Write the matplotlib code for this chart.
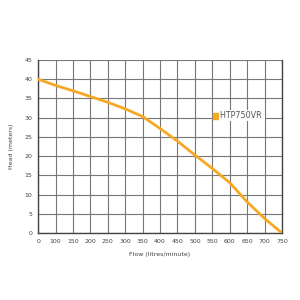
import matplotlib
matplotlib.use('Agg')
import matplotlib.pyplot as plt

# pump curve (x axis is categorical: 0 then 100, 150, ...)
flow_labels = ['0', '100', '150', '200', '250', '300', '350', '400',
               '450', '500', '550', '600', '650', '700', '750']
head = [40, 38.4, 37, 35.5, 34, 32.3, 30.3, 27.2, 23.9, 20.3, 16.8, 13.1, 8.1, 3.8, 0]
series_name = 'HTP750VR'
yticks = list(range(0, 46, 5))

pos = list(range(len(flow_labels)))

fig = plt.figure(figsize=(3, 3), dpi=100)
ax = fig.add_axes([0.127, 0.223, 0.813, 0.577])
ax.plot(pos, head, color='#F7A823', linewidth=2, label=series_name, zorder=3)
ax.set_xlim(0, len(flow_labels) - 1)
ax.set_ylim(0, 45)
ax.set_xticks(pos)
ax.set_xticklabels(flow_labels)
ax.set_yticks(yticks)
ax.grid(True, color='#777777', linewidth=0.8)
ax.tick_params(labelsize=4.5, length=0, pad=4, colors='#444444')
for s in ['left', 'bottom', 'right']:
    ax.spines[s].set_color('#444444')
    ax.spines[s].set_linewidth(1)
ax.spines['top'].set_visible(False)
ax.set_xlabel('Flow (litres/minute)', fontsize=4.5, color='#444444', labelpad=6)
ax.set_ylabel('Head (meters)', fontsize=4.5, color='#444444', labelpad=8)

# legend as a square marker + text, sitting on a white patch over the grid
ax.scatter([10.23], [30.5], marker='s', s=22, color='#F7A823', zorder=4)
ax.text(10.45, 30.5, series_name + ' ', fontsize=5.8, va='center', ha='left', color='#555555',
        bbox=dict(facecolor='white', edgecolor='none', pad=0.6), zorder=4)

plt.savefig('out.png', dpi=100)
plt.close()
